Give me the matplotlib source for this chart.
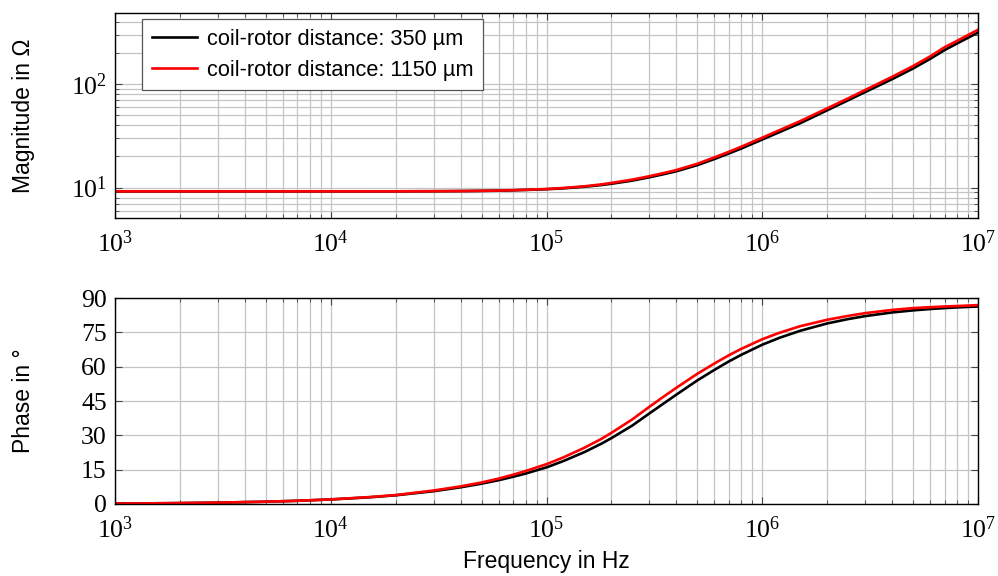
import matplotlib
matplotlib.use("Agg")
import matplotlib.pyplot as plt
import numpy as np
from matplotlib.ticker import LogLocator, MultipleLocator

# frequency points (Hz)
freq = [1e3, 1.5e3, 2e3, 3e3, 5e3, 7e3, 1e4, 1.5e4, 2e4, 3e4, 4e4, 5e4, 6e4, 7e4, 8e4,
        1e5, 1.2e5, 1.5e5, 1.8e5, 2e5, 2.5e5, 3e5, 3.5e5, 4e5, 5e5, 6e5, 7e5, 8e5,
        1e6, 1.2e6, 1.5e6, 2e6, 2.5e6, 3e6, 4e6, 5e6, 6e6, 7e6, 8e6, 1e7]

# magnitude in ohm
mag_350 = [9.2, 9.2, 9.2, 9.2, 9.2, 9.2, 9.2, 9.2, 9.21, 9.23, 9.26, 9.3, 9.35, 9.42, 9.5,
           9.65, 9.85, 10.2, 10.6, 10.9, 11.7, 12.6, 13.5, 14.4, 16.5, 18.9, 21.4, 23.9,
           29.2, 34.4, 42.0, 56.0, 70.0, 84.0, 112.0, 142.0, 176.0, 214.0, 248.0, 316.0]
mag_1150 = [9.2, 9.2, 9.2, 9.2, 9.2, 9.2, 9.2, 9.2, 9.21, 9.23, 9.26, 9.31, 9.37, 9.45, 9.53,
            9.7, 9.92, 10.3, 10.75, 11.1, 11.95, 12.9, 13.85, 14.8, 17.0, 19.6, 22.2, 24.9,
            30.4, 35.9, 44.0, 58.5, 73.0, 88.0, 118.0, 150.0, 186.0, 228.0, 263.0, 336.0]

# phase in degree
phase_350 = [0.2, 0.3, 0.4, 0.6, 1.0, 1.4, 2.0, 2.9, 3.8, 5.6, 7.3, 8.9, 10.4, 11.9, 13.3,
             16.0, 18.8, 22.7, 26.4, 28.8, 34.3, 39.6, 44.0, 47.8, 54.0, 58.6, 62.3, 65.2,
             69.6, 72.6, 75.7, 78.9, 80.8, 82.1, 83.7, 84.6, 85.2, 85.6, 85.9, 86.3]
phase_1150 = [0.2, 0.3, 0.4, 0.6, 1.0, 1.4, 2.0, 3.0, 3.9, 5.9, 7.7, 9.4, 11.1, 12.8, 14.4,
              17.4, 20.4, 24.6, 28.5, 31.1, 37.0, 42.5, 47.0, 50.8, 56.9, 61.4, 65.0, 67.8,
              72.0, 74.8, 77.7, 80.5, 82.2, 83.4, 84.8, 85.6, 86.0, 86.3, 86.5, 86.9]

labels = ["coil-rotor distance: 350 µm", "coil-rotor distance: 1150 µm"]

plt.rcParams["font.family"] = ["Liberation Sans", "DejaVu Sans"]
plt.rcParams["mathtext.fontset"] = "custom"
plt.rcParams["mathtext.rm"] = "Liberation Serif"
plt.rcParams["mathtext.it"] = "Liberation Serif:italic"

fig = plt.figure(figsize=(9.98, 5.76), dpi=100)
ax1 = fig.add_axes([0.1152, 0.621, 0.8648, 0.357])
ax2 = fig.add_axes([0.1152, 0.125, 0.8648, 0.3576])

grid_kw = dict(color="#c4c4c4", linewidth=0.9)

ax1.plot(freq, mag_350, color="black", linewidth=1.9, label=labels[0])
ax1.plot(freq, mag_1150, color="#ff0000", linewidth=1.9, label=labels[1])
ax1.set_xscale("log")
ax1.set_yscale("log")
ax1.set_xlim(1e3, 1e7)
ax1.set_ylim(5.05, 492)
ax1.grid(True, which="both", **grid_kw)
ax1.set_ylabel("Magnitude in Ω", fontsize=16.5)
ax1.yaxis.set_label_coords(-0.093, 0.5)
leg = ax1.legend(loc="upper left", bbox_to_anchor=(0.031, 0.969), borderaxespad=0,
                 fontsize=15.7, frameon=True, fancybox=False, edgecolor="#555555",
                 framealpha=1, handlelength=2.1, borderpad=0.45, labelspacing=0.45,
                 handletextpad=0.45)
leg.get_frame().set_linewidth(0.9)

ax2.plot(freq, phase_350, color="black", linewidth=1.9)
ax2.plot(freq, phase_1150, color="#ff0000", linewidth=1.9)
ax2.set_xscale("log")
ax2.set_xlim(1e3, 1e7)
ax2.set_ylim(0, 90)
ax2.yaxis.set_major_locator(MultipleLocator(15))
ax2.grid(True, which="major", **grid_kw)
ax2.grid(True, which="minor", axis="x", **grid_kw)
ax2.set_ylabel("Phase in °", fontsize=16.5)
ax2.yaxis.set_label_coords(-0.093, 0.5)
ax2.set_xlabel("Frequency in Hz", fontsize=16.5)
ax2.xaxis.set_label_coords(0.5, -0.225)

for ax in (ax1, ax2):
    ax.set_axisbelow(True)
    ax.xaxis.set_major_locator(LogLocator(base=10, numticks=10))
    ax.xaxis.set_minor_locator(LogLocator(base=10, subs=np.arange(2, 10), numticks=20))
    ax.tick_params(which="both", direction="in", top=True, right=True, color="#444444")
    ax.tick_params(which="major", length=5, width=0.8, labelsize=18.5, pad=6)
    ax.tick_params(axis="x", which="major", pad=9)
    ax.tick_params(which="minor", length=3, width=0.6)
    for lab in ax.get_xticklabels() + ax.get_yticklabels():
        lab.set_fontfamily("Liberation Serif")
    for sp in ax.spines.values():
        sp.set_linewidth(1.0)

fig.savefig("out.png", dpi=100)
